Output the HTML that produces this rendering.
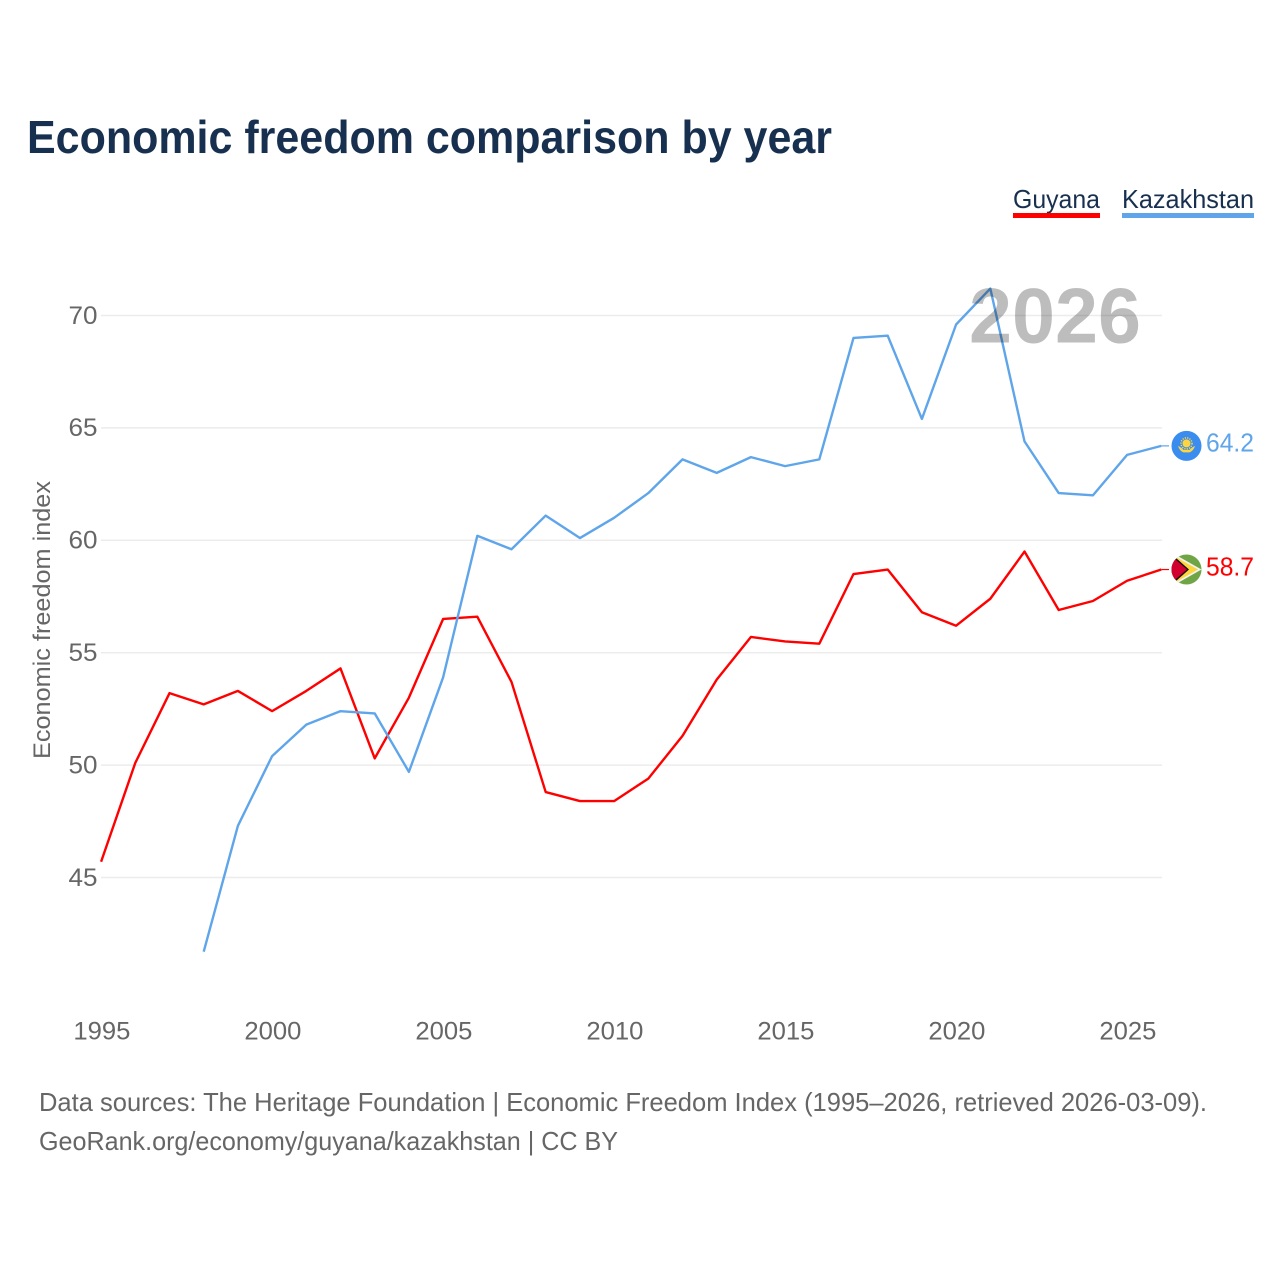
<!DOCTYPE html>
<html lang="en">
<head>
<meta charset="utf-8">
<title>Economic freedom comparison by year</title>
<style>
html,body{margin:0;padding:0;background:#fff;width:1280px;height:1280px;overflow:hidden}
svg{display:block;font-family:"Liberation Sans",sans-serif}
</style>
</head>
<body>
<svg id="chart" width="1280" height="1280" viewBox="0 0 1280 1280" xmlns="http://www.w3.org/2000/svg">
  <rect width="1280" height="1280" fill="#fff"/>
  <text x="27" y="153" font-size="46" font-weight="700" fill="#18304f" textLength="805" lengthAdjust="spacingAndGlyphs">Economic freedom comparison by year</text>

  <g>
    <text x="1013" y="208" font-size="26" fill="#18304f" textLength="87" lengthAdjust="spacingAndGlyphs">Guyana</text>
    <rect x="1013" y="213" width="87" height="5" fill="#ff0000"/>
  </g>
  <g>
    <text x="1122" y="208" font-size="26" fill="#18304f" textLength="132" lengthAdjust="spacingAndGlyphs">Kazakhstan</text>
    <rect x="1122" y="213" width="132" height="5" fill="#5fa5ea"/>
  </g>

  <g id="grid"></g>
  <g id="yticks"></g>
  <g id="xticks"></g>
  <text transform="translate(50 759) rotate(-90)" font-size="24" fill="#666" textLength="278" lengthAdjust="spacingAndGlyphs">Economic freedom index</text>
  <g id="series"></g>
  <text x="969" y="342.500" font-size="78" font-weight="700" fill="#000" fill-opacity="0.26" textLength="172" lengthAdjust="spacingAndGlyphs">2026</text>

  <g id="end-kazakhstan">
    <circle r="15" fill="#3a8dee"/>
    <circle cy="-2.500" r="4" fill="#ffd53f"/>
    <circle cy="-2.500" r="5.500" fill="none" stroke="#ffd53f" stroke-width="1.500" stroke-dasharray="1.200 1.200"/>
    <path d="M-8.500 0Q-5 1.500-3 4L3 4Q5 1.500 8.500 0Q7 5 3 6.500L-3 6.500Q-7 5-8.500 0Z" fill="#ffd53f"/>
  </g>
  <g id="end-guyana">
    <clipPath id="flag-clip"><circle r="15"/></clipPath>
    <g clip-path="url(#flag-clip)">
      <rect x="-15" y="-15" width="30" height="30" fill="#6fa544"/>
      <path d="M-15-17 15 0-15 17Z" fill="#f2f2f2"/>
      <path d="M-15-15 11.500 0-15 15Z" fill="#ffd53f"/>
      <path d="M-15-15.500 2.500 0-15 15.500Z" fill="#111"/>
      <path d="M-15-13.500 0.500 0-15 13.500Z" fill="#d2002f"/>
    </g>
  </g>
  <text id="value-kazakhstan" x="1206" font-size="25.500" fill="#5fa5ea" textLength="48" lengthAdjust="spacingAndGlyphs"></text>
  <text id="value-guyana" x="1206" font-size="25.500" fill="#ff0000" textLength="48" lengthAdjust="spacingAndGlyphs"></text>

  <text x="39" y="1111" font-size="26" fill="#666" textLength="1168" lengthAdjust="spacingAndGlyphs">Data sources: The Heritage Foundation | Economic Freedom Index (1995–2026, retrieved 2026-03-09).</text>
  <text x="39" y="1150" font-size="26" fill="#666" textLength="579" lengthAdjust="spacingAndGlyphs">GeoRank.org/economy/guyana/kazakhstan | CC BY</text>
</svg>
<script>
const startYear = 1995;
const guyanaValues = [45.7,50.1,53.2,52.7,53.3,52.4,53.3,54.3,50.3,53.0,56.5,56.6,53.7,48.8,48.4,48.4,49.4,51.3,53.8,55.7,55.5,55.4,58.5,58.7,56.8,56.2,57.4,59.5,56.9,57.3,58.2,58.7];
const kazakhstanValues = [null,null,null,41.7,47.3,50.4,51.8,52.4,52.3,49.7,53.9,60.2,59.6,61.1,60.1,61.0,62.1,63.6,63.0,63.7,63.3,63.6,69.0,69.1,65.4,69.6,71.2,64.4,62.1,62.0,63.8,64.2];
const yTickValues = [45,50,55,60,65,70];
const xTickValues = [1995,2000,2005,2010,2015,2020,2025];

const NS = 'http://www.w3.org/2000/svg';
const xScale = year => 101.1 + (year - 1995) * 34.2;
const yScale = value => 315.5 + (70 - value) * 22.48;

function make(tag, parent) {
  const el = document.createElementNS(NS, tag);
  parent.appendChild(el);
  return el;
}

const gridGroup = document.getElementById('grid');
const yTickGroup = document.getElementById('yticks');
yTickValues.forEach(v => {
  const line = make('line', gridGroup);
  
  
  line.setAttribute('x1', 101);
  line.setAttribute('x2', 1162);
  line.setAttribute('y1', yScale(v));
  line.setAttribute('y2', yScale(v));
  line.setAttribute('stroke', '#ececec');
  line.setAttribute('stroke-width', 1.5);
  const label = make('text', yTickGroup);
  
  
  label.setAttribute('x', 97.5);
  label.setAttribute('y', yScale(v) + 8.3);
  label.setAttribute('text-anchor', 'end');
  label.setAttribute('font-size', 25);
  label.setAttribute('fill', '#666');
  label.setAttribute('textLength', 29);
  label.setAttribute('lengthAdjust', 'spacingAndGlyphs');
  label.textContent = v;
});

const xTickGroup = document.getElementById('xticks');
xTickValues.forEach(y => {
  const label = make('text', xTickGroup);
  
  
  label.setAttribute('x', xScale(y) + 0.8);
  label.setAttribute('y', 1039.5);
  label.setAttribute('text-anchor', 'middle');
  label.setAttribute('font-size', 25);
  label.setAttribute('fill', '#666');
  label.setAttribute('textLength', 57);
  label.setAttribute('lengthAdjust', 'spacingAndGlyphs');
  label.textContent = y;
});

function pathFor(values) {
  let d = '';
  values.forEach((v, i) => {
    if (v === null) return;
    d += (d ? 'L' : 'M') + xScale(startYear + i).toFixed(2) + ' ' + yScale(v).toFixed(2);
  });
  return d;
}

const seriesGroup = document.getElementById('series');
const guyanaLine = make('path', seriesGroup);


guyanaLine.setAttribute('d', pathFor(guyanaValues));
guyanaLine.setAttribute('fill', 'none');
guyanaLine.setAttribute('stroke', '#ff0000');
guyanaLine.setAttribute('stroke-width', 2.4);
guyanaLine.setAttribute('stroke-linejoin', 'round');

const kazakhstanLine = make('path', seriesGroup);


kazakhstanLine.setAttribute('d', pathFor(kazakhstanValues));
kazakhstanLine.setAttribute('fill', 'none');
kazakhstanLine.setAttribute('stroke', '#5fa5ea');
kazakhstanLine.setAttribute('stroke-width', 2.4);
kazakhstanLine.setAttribute('stroke-linejoin', 'round');

function placeEnd(markerId, valueId, values, color) {
  const last = values[values.length - 1];
  const yPos = yScale(last);
  const xEnd = xScale(startYear + values.length - 1);
  const connector = make('line', seriesGroup);
  
  
  connector.setAttribute('x1', xEnd);
  connector.setAttribute('x2', 1169);
  connector.setAttribute('y1', yPos);
  connector.setAttribute('y2', yPos);
  connector.setAttribute('stroke', color);
  connector.setAttribute('stroke-width', 1.2);
  document.getElementById(markerId).setAttribute('transform', 'translate(1186.500 ' + yPos + ')');
  const label = document.getElementById(valueId);
  label.setAttribute('y', yPos + 5.8);
  label.textContent = last.toFixed(1);
}
placeEnd('end-kazakhstan', 'value-kazakhstan', kazakhstanValues, '#5fa5ea');
placeEnd('end-guyana', 'value-guyana', guyanaValues, '#ff0000');
</script>
</body>
</html>
